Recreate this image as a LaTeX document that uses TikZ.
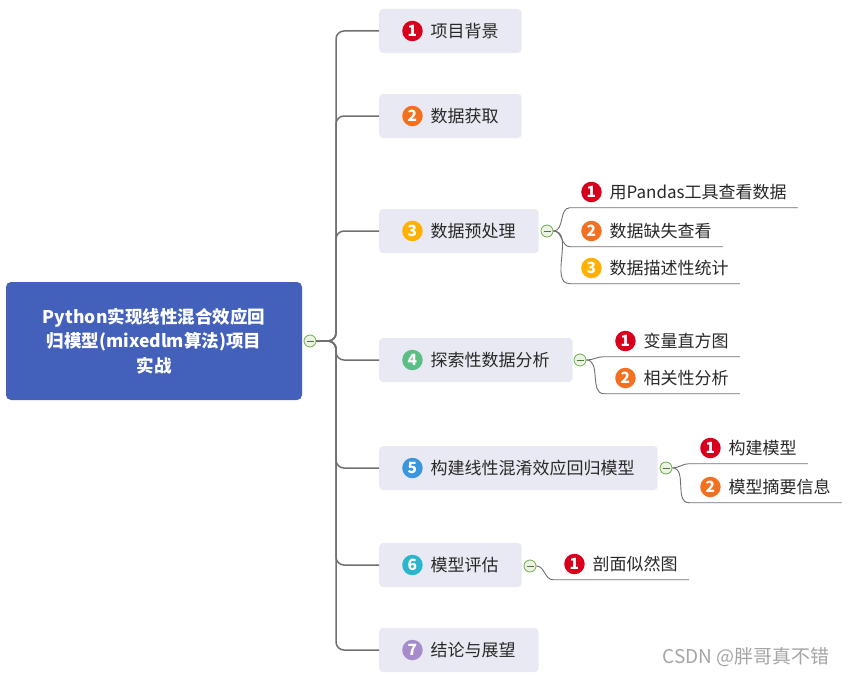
\documentclass[tikz,border=0pt]{standalone}
\usepackage{fontspec}
\setmainfont{Noto Sans CJK SC}
\usetikzlibrary{positioning}
\definecolor{rootblue}{RGB}{67,96,186}
\definecolor{topicgray}{RGB}{232,233,242}
\definecolor{linegray}{RGB}{112,112,112}
\definecolor{textdark}{RGB}{40,40,40}
\definecolor{foldgreen}{RGB}{112,173,71}
\definecolor{foldfill}{RGB}{236,243,230}
\definecolor{markgray}{RGB}{165,165,165}
\definecolor{c1}{RGB}{214,0,28}
\definecolor{c2}{RGB}{243,112,33}
\definecolor{c3}{RGB}{255,176,0}
\definecolor{c4}{RGB}{91,190,132}
\definecolor{c5}{RGB}{58,150,221}
\definecolor{c6}{RGB}{42,182,204}
\definecolor{c7}{RGB}{166,140,203}
\tikzset{
  badge/.style={circle,anchor=center,draw=none,inner sep=0pt,outer sep=0pt,minimum size=20.5pt,
    text=white,rounded corners=0pt,font=\bfseries\fontsize{15.5}{15.5}\selectfont},
}
\newcommand{\numbadge}[2]{\tikz[baseline=-6.2pt]\node[badge,fill=#1]{#2};\hspace*{8pt}}

\begin{document}
\begin{tikzpicture}[x=1pt,y=-1pt,
  root/.style={fill=rootblue,rounded corners=5pt,minimum width=296pt,minimum height=118pt,
    align=center,text=white,font=\bfseries\fontsize{17.5}{24.5}\selectfont},
  topic/.style={anchor=west,fill=topicgray,rounded corners=4pt,minimum height=44pt,
    inner xsep=23pt,text height=14.5pt,text depth=2.1pt,text=textdark,font=\fontsize{17}{20}\selectfont},
  sub/.style={anchor=west,inner xsep=11pt,inner ysep=0pt,minimum height=31pt,
    text height=14.5pt,text depth=2.1pt,text=textdark,font=\fontsize{17}{20}\selectfont},
  fold/.style={circle,draw=foldgreen,fill=foldfill,line width=0.8pt,minimum size=12pt,inner sep=0pt,
    path picture={\draw[foldgreen!70!black,line width=0.9pt]
      ([xshift=-3.5pt]path picture bounding box.center) -- ([xshift=3.5pt]path picture bounding box.center);}},
  trunk/.style={draw=linegray,line width=1.5pt,rounded corners=8pt},
  subline/.style={draw=linegray,line width=0.9pt},
]
\useasboundingbox (0,0) rectangle (848,677);

% root
\node[root] (root) at (154,341) {Python实现线性混合效应回\\归模型(mixedlm算法)项目\\实战};
\node[fold] (k0) at (310,341) {};
\coordinate (hub) at (336,341);

% main topics
\node[topic] (m1) at (379,31) {\numbadge{c1}{1}项目背景};
\node[topic] (m2) at (379,116) {\numbadge{c2}{2}数据获取};
\node[topic] (m3) at (379,231) {\numbadge{c3}{3}数据预处理};
\node[topic] (m4) at (379,360) {\numbadge{c4}{4}探索性数据分析};
\node[topic] (m5) at (379,468) {\numbadge{c5}{5}构建线性混淆效应回归模型};
\node[topic] (m6) at (379,565) {\numbadge{c6}{6}模型评估};
\node[topic] (m7) at (379,650) {\numbadge{c7}{7}结论与展望};

\foreach \m in {m1,m2,m3,m4,m5,m6,m7}
  \draw[trunk] (k0.east) -- (hub) -- (hub |- \m.west) -- (\m.west);

% fold buttons
\node[fold] (k3) at (547,231) {};
\node[fold] (k4) at (580,360) {};
\node[fold] (k5) at (666,468) {};
\node[fold] (k6) at (530,566) {};

% sub topics
\node[sub] (s31) at (570,192) {\numbadge{c1}{1}用Pandas工具查看数据};
\node[sub] (s32) at (570,231) {\numbadge{c2}{2}数据缺失查看};
\node[sub] (s33) at (570,268) {\numbadge{c3}{3}数据描述性统计};
\node[sub] (s41) at (604,341) {\numbadge{c1}{1}变量直方图};
\node[sub] (s42) at (604,378) {\numbadge{c2}{2}相关性分析};
\node[sub] (s51) at (689,448) {\numbadge{c1}{1}构建模型};
\node[sub] (s52) at (689,487) {\numbadge{c2}{2}模型摘要信息};
\node[sub] (s61) at (553,564) {\numbadge{c1}{1}剖面似然图};

\foreach \s in {s31,s32,s33}
  \draw[subline] (k3.east) to[out=0,in=180] (\s.south west) -- (\s.south east);
\foreach \s in {s41,s42}
  \draw[subline] (k4.east) to[out=0,in=180] (\s.south west) -- (\s.south east);
\foreach \s in {s51,s52}
  \draw[subline] (k5.east) to[out=0,in=180] (\s.south west) -- (\s.south east);
\draw[subline] (k6.east) to[out=0,in=180] (s61.south west) -- (s61.south east);

% watermark
\node[anchor=east,text=markgray,font=\fontsize{19}{21}\selectfont] (wm) at (833,657) {CSDN @胖哥真不错};
\end{tikzpicture}
\end{document}
